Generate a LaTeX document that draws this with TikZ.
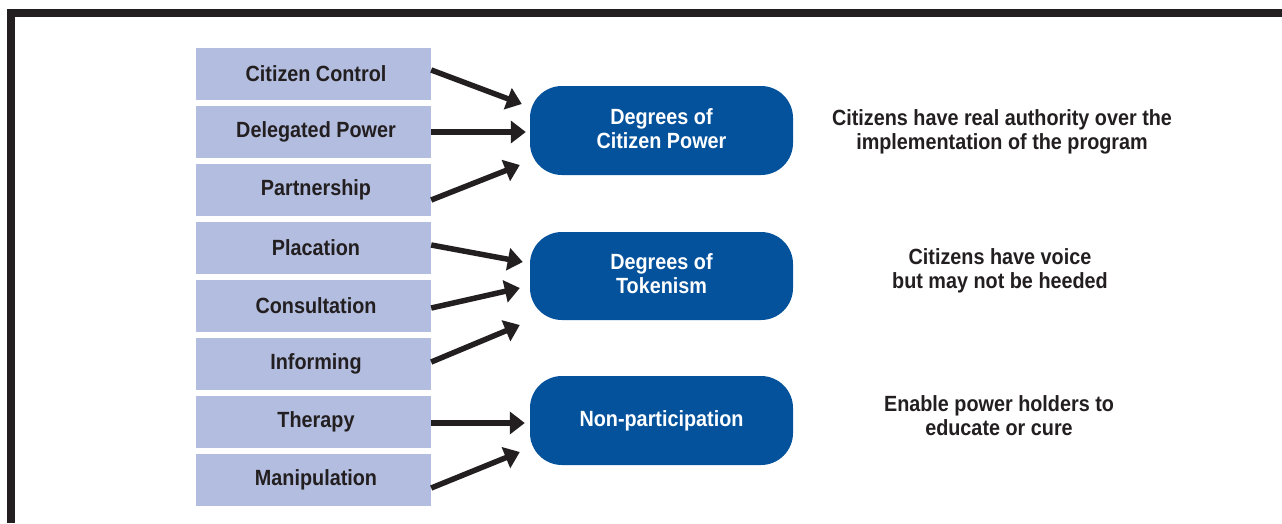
\documentclass[tikz,border=0pt]{standalone}
\usepackage{fontspec}
\usetikzlibrary{arrows.meta,calc}
\newfontfamily\condfont{Liberation Sans}[FakeStretch=0.9]
\definecolor{ink}{HTML}{231F20}
\definecolor{rung}{HTML}{B3BDDF}
\definecolor{group}{HTML}{04529C}
\tikzset{
  rungbox/.style={fill=rung, minimum width=235pt, minimum height=52pt, inner sep=0pt,
    text=ink, font=\condfont\bfseries\fontsize{22}{24}\selectfont,
    execute at begin node=\hspace*{5pt}},
  groupbox/.style={fill=group, rounded corners=32pt, minimum width=263pt, minimum height=89pt,
    inner sep=0pt, text=white, align=center, font=\condfont\bfseries\fontsize{22}{24}\selectfont},
  desc/.style={text=ink, align=center, inner sep=0pt, font=\condfont\bfseries\fontsize{22}{24}\selectfont},
  arr/.style={draw=ink, line width=5.5pt, -{Triangle[length=15pt,width=22pt]}},
}
\begin{document}
\begin{tikzpicture}[x=1pt,y=-1pt]
\useasboundingbox (0,0) rectangle (1282,523);
% frame
\draw[ink, line width=8pt, line cap=butt, line join=miter] (11,523) -- (11,13.3) -- (1282,13.3);

% ladder rungs
\node[rungbox] (b1) at (313.5,74)  {Citizen Control};
\node[rungbox] (b2) at (313.5,132) {Delegated Power};
\node[rungbox] (b3) at (313.5,190) {Partnership};
\node[rungbox] (b4) at (313.5,248) {Placation};
\node[rungbox] (b5) at (313.5,306) {Consultation};
\node[rungbox] (b6) at (313.5,364) {Informing};
\node[rungbox] (b7) at (313.5,422) {Therapy};
\node[rungbox] (b8) at (313.5,480) {Manipulation};

% groups (text raised slightly inside the box)
\node[groupbox] (g1) at (661.5,130.5) {Degrees of\\Citizen Power\\[-20pt]\mbox{}};
\node[groupbox, minimum height=88pt] (g2) at (661.5,276) {Degrees of\\Tokenism\\[-20pt]\mbox{}};
\node[groupbox] (g3) at (661.5,420.5) {Non-participation};

% descriptions
\node[desc] (d1) at (1002,132) {Citizens have real authority over the\\implementation of the program};
\node[desc] (d2) at (1000,271) {Citizens have voice\\but may not be heeded};
\node[desc] (d3) at (999,415.5) {Enable power holders to\\educate or cure};

% arrows
\draw[arr] ($(b1.east)+(0,-4)$)  -- ($(g1.west)+(-8,-26.5)$);
\draw[arr] ($(b2.east)+(0,0)$)   -- ($(g1.west)+(-4,1.5)$);
\draw[arr] ($(b3.east)+(0,10)$)  -- ($(g1.west)+(-10,34.5)$);
\draw[arr] ($(b4.east)+(0,-3)$)  -- ($(g2.west)+(-7,-14)$);
\draw[arr] ($(b5.east)+(0,2)$)   -- ($(g2.west)+(-10,12)$);
\draw[arr] ($(b6.east)+(0,-2)$)  -- ($(g2.west)+(-10,49)$);
\draw[arr] ($(b7.east)+(0,1)$)   -- ($(g3.west)+(-5,2.5)$);
\draw[arr] ($(b8.east)+(0,8)$)   -- ($(g3.west)+(-10,31.5)$);
\end{tikzpicture}
\end{document}
